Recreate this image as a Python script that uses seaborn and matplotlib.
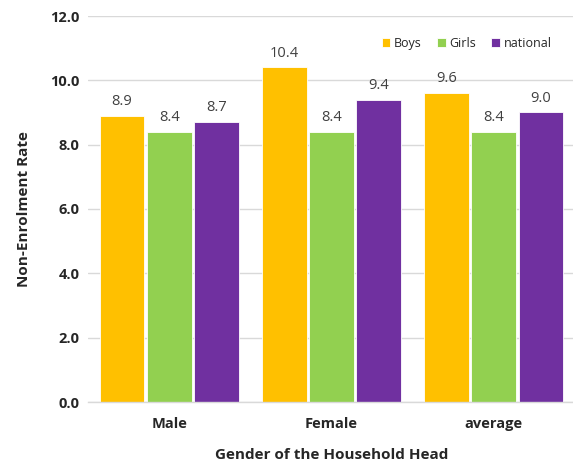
import matplotlib
matplotlib.use("Agg")
import matplotlib.pyplot as plt
import seaborn as sns
import pandas as pd

groups = ["Male", "Female", "average"]
series = ["Boys", "Girls", "national"]
boys = [8.9, 10.4, 9.6]
girls = [8.4, 8.4, 8.4]
national = [8.7, 9.4, 9.0]
colors = ["#FFC000", "#92D050", "#7030A0"]

df = pd.DataFrame({
    "group": groups * 3,
    "series": [s for s in series for _ in groups],
    "value": boys + girls + national,
})

sns.set_theme(style="white")
plt.rcParams["font.family"] = ["Open Sans", "DejaVu Sans"]

fig = plt.figure(figsize=(5.73, 4.65), dpi=100)
ax = fig.add_axes([88 / 573, 63 / 465, 487 / 573, 386 / 465])

sns.barplot(data=df, x="group", y="value", hue="series", order=groups,
            hue_order=series, palette=colors, width=0.87, gap=0.05,
            ax=ax, saturation=1, edgecolor="white", linewidth=0.6)

for cont in ax.containers:
    ax.bar_label(cont, fmt="%.1f", padding=5, fontsize=10.5, color="#404040")

ax.set_ylim(0, 12)
ax.set_yticks([0, 2, 4, 6, 8, 10, 12])
ax.set_yticklabels([f"{v:.1f}" for v in [0, 2, 4, 6, 8, 10, 12]],
                   fontweight="bold", fontsize=10.5)
ax.set_xlim(-0.5, 2.5)
for lbl in ax.get_xticklabels():
    lbl.set_fontweight("bold")
    lbl.set_fontsize(10.5)
ax.tick_params(axis="x", pad=11, length=0)
ax.tick_params(axis="y", pad=6, length=0)
ax.yaxis.grid(True, color="#d9d9d9", linewidth=1)
ax.set_axisbelow(True)
for s in ["top", "right", "left"]:
    ax.spines[s].set_visible(False)
ax.spines["bottom"].set_color("#d9d9d9")
ax.spines["bottom"].set_linewidth(1)

ax.set_xlabel("Gender of the Household Head", fontweight="bold", fontsize=11, labelpad=12)
ax.set_ylabel("Non-Enrolment Rate", fontweight="bold", fontsize=11, labelpad=14)

leg = ax.legend(loc="upper right", bbox_to_anchor=(0.975, 0.975), ncol=3, frameon=False,
                fontsize=9, handlelength=0.7, handleheight=0.7, handletextpad=0.3,
                columnspacing=1.2)

fig.savefig("out.png", dpi=100)
